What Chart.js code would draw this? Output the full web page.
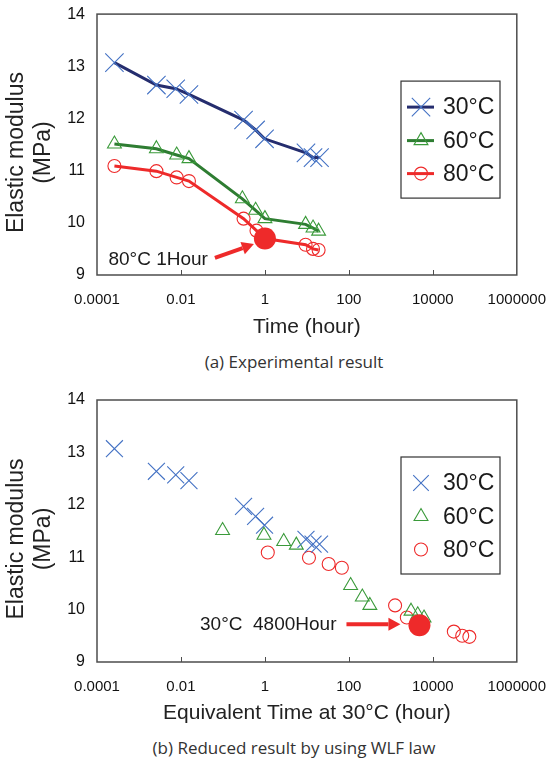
<!DOCTYPE html>
<html>
<head>
<meta charset="utf-8">
<script src="https://cdn.jsdelivr.net/npm/chart.js@4.4.1/dist/chart.umd.min.js"></script>
<style>
  html, body { margin: 0; padding: 0; background: #ffffff; }
  body { width: 547px; height: 760px; position: relative; overflow: hidden; }
  .box { position: absolute; left: 0; width: 547px; height: 350px; }
  .cap { position: absolute; left: 0; width: 588px; text-align: center; font: 17px "Open Sans", "Noto Sans", sans-serif; line-height: 20px; color: #333; }
</style>
</head>
<body>
<div class="box" style="top:0"><canvas id="chartA" width="547" height="350"></canvas></div>
<div class="cap" style="top:352px">(a) Experimental result</div>
<div class="box" style="top:380px"><canvas id="chartB" width="547" height="350"></canvas></div>
<div class="cap" style="top:738px">(b) Reduced result by using WLF law</div>
<script>
// ---------- data ----------
const timeTickValues = [0.0001, 0.01, 1, 100, 10000, 1000000];
const timeTickLabels = ['0.0001', '0.01', '1', '100', '10000', '1000000'];
const modulusTickValues = [9, 10, 11, 12, 13, 14];
const seriesLabels = ['30°C', '60°C', '80°C'];

// (a) experimental result: time (hour) vs elastic modulus (MPa)
const time30 = [0.00026, 0.0026, 0.0075, 0.0155, 0.31, 0.6, 0.98, 9.5, 14, 20];
const modulus30 = [13.07, 12.64, 12.57, 12.46, 11.97, 11.78, 11.61, 11.34, 11.25, 11.25];
const time60 = [0.00026, 0.0026, 0.0079, 0.0155, 0.29, 0.6, 1.0, 9.3, 14, 19];
const modulus60 = [11.51, 11.42, 11.3, 11.23, 10.46, 10.24, 10.08, 9.97, 9.9, 9.84];
const time80 = [0.00026, 0.0026, 0.0079, 0.0155, 0.31, 0.63, 1.0, 9.3, 14, 19];
const modulus80 = [11.09, 10.99, 10.87, 10.8, 10.08, 9.85, 9.7, 9.58, 9.5, 9.48];

// (b) reduced result: equivalent time at 30°C (hour)
const eqTime30 = [0.00026, 0.0026, 0.0075, 0.0155, 0.31, 0.6, 0.98, 9.5, 14, 20];
const eqTime60 = [0.098, 0.95, 2.8, 5.6, 110, 209, 316, 3020, 4365, 6166];
const eqTime80 = [1.17, 11.2, 33, 68, 1260, 2400, 4800, 31600, 50100, 74100];

// highlighted points
const markTimeA = [1];
const markModulusA = [9.7];
const markLabelA = '80°C 1Hour';
const markTimeB = [4800];
const markModulusB = [9.7];
const markLabelB = '30°C  4800Hour';

// ---------- styles ----------
const FONT = '"Liberation Sans", Arial, Helvetica, sans-serif';
const seriesStyle = [
  { line: '#252d6e', mark: '#4472c4', pointStyle: 'crossRot' },
  { line: '#2e7d32', mark: '#3a9a3a', pointStyle: 'triangle' },
  { line: '#ee2a2a', mark: '#ee2a2a', pointStyle: 'circle' }
];
const RED = '#ee2a2a';

function toPoints(xs, ys) { return xs.map((x, i) => ({ x: x, y: ys[i] })); }

function drawMarker(ctx, style, x, y, r) {
  ctx.beginPath();
  if (style === 'crossRot') {
    const d = r * Math.SQRT1_2;
    ctx.moveTo(x - d, y - d); ctx.lineTo(x + d, y + d);
    ctx.moveTo(x + d, y - d); ctx.lineTo(x - d, y + d);
  } else if (style === 'triangle') {
    ctx.moveTo(x, y - r);
    ctx.lineTo(x + r * 0.866, y + r * 0.5);
    ctx.lineTo(x - r * 0.866, y + r * 0.5);
    ctx.closePath();
  } else {
    ctx.arc(x, y, r, 0, Math.PI * 2);
  }
  ctx.stroke();
}

function makeDeco(opt) {
  return {
    id: 'deco',
    afterDraw(chart) {
      const ctx = chart.ctx, a = chart.chartArea, xs = chart.scales.x, ys = chart.scales.y;
      ctx.save();
      // plot frame
      ctx.strokeStyle = '#4d4d4d';
      ctx.lineWidth = 1.5;
      ctx.strokeRect(a.left, a.top, a.right - a.left, a.bottom - a.top);
      // inward tick marks on x axis
      ctx.lineWidth = 1;
      timeTickValues.slice(1, -1).forEach(v => {
        const px = Math.round(xs.getPixelForValue(v)) + 0.5;
        ctx.beginPath(); ctx.moveTo(px, a.bottom); ctx.lineTo(px, a.bottom - 5); ctx.stroke();
      });
      // y axis title (two lines, rotated)
      ctx.fillStyle = '#222';
      ctx.font = '23px ' + FONT;
      ctx.textAlign = 'center';
      ctx.textBaseline = 'middle';
      const cy = (a.top + a.bottom) / 2 + 8;
      [['Elastic modulus', a.left - 80], ['(MPa)', a.left - 53]].forEach(([t, cx]) => {
        ctx.save(); ctx.translate(cx, cy); ctx.rotate(-Math.PI / 2); ctx.fillText(t, 0, 0); ctx.restore();
      });
      // legend box
      const lx = a.left + 304, ly = a.top + opt.legendTop, lw = 99, lh = 117;
      ctx.fillStyle = '#ffffff';
      ctx.fillRect(lx, ly, lw, lh);
      ctx.strokeStyle = '#333';
      ctx.lineWidth = 1.2;
      ctx.strokeRect(lx, ly, lw, lh);
      const rowY = [26, 59.5, 92.5];
      seriesLabels.forEach((label, i) => {
        const st = seriesStyle[i];
        const y = ly + rowY[i];
        if (opt.lines) {
          ctx.strokeStyle = st.line; ctx.lineWidth = 3;
          ctx.beginPath(); ctx.moveTo(lx + 6, y); ctx.lineTo(lx + 33, y); ctx.stroke();
        }
        ctx.strokeStyle = st.mark; ctx.lineWidth = 1.1;
        drawMarker(ctx, st.pointStyle, lx + 20, y, opt.legendRadius[i]);
        ctx.fillStyle = '#1a1a1a';
        ctx.font = '23px ' + FONT;
        ctx.textAlign = 'left'; ctx.textBaseline = 'middle';
        ctx.fillText(label, lx + 42, y + 1);
      });
      // annotation arrow + text
      const px = xs.getPixelForValue(opt.markTime[0]);
      const py = ys.getPixelForValue(opt.markModulus[0]);
      const t0 = { x: px + opt.arrowFrom[0], y: py + opt.arrowFrom[1] };
      const t1 = { x: px + opt.arrowTo[0], y: py + opt.arrowTo[1] };
      const ang = Math.atan2(t1.y - t0.y, t1.x - t0.x);
      const headLen = 12, headW = 6.5;
      const bx = t1.x - headLen * Math.cos(ang), by = t1.y - headLen * Math.sin(ang);
      ctx.strokeStyle = RED; ctx.fillStyle = RED; ctx.lineWidth = 4;
      ctx.beginPath(); ctx.moveTo(t0.x, t0.y); ctx.lineTo(bx, by); ctx.stroke();
      ctx.beginPath();
      ctx.moveTo(t1.x, t1.y);
      ctx.lineTo(bx + headW * Math.sin(ang), by - headW * Math.cos(ang));
      ctx.lineTo(bx - headW * Math.sin(ang), by + headW * Math.cos(ang));
      ctx.closePath(); ctx.fill();
      ctx.fillStyle = '#1a1a1a';
      ctx.font = '19px ' + FONT;
      ctx.textAlign = 'right'; ctx.textBaseline = 'middle';
      ctx.fillText(opt.markLabel, px + opt.textAt[0], py + opt.textAt[1]);
      ctx.restore();
    }
  };
}

function makeChart(id, o) {
  const datasets = [{
    label: 'mark',
    data: toPoints(o.markTime, o.markModulus),
    showLine: false,
    pointRadius: 11,
    pointBackgroundColor: RED,
    pointBorderColor: RED,
    pointBorderWidth: 0
  }];
  o.series.forEach((s, i) => {
    const st = seriesStyle[i];
    datasets.push({
      label: seriesLabels[i],
      data: toPoints(s[0], s[1]),
      showLine: o.lines,
      borderColor: st.line,
      borderWidth: 3,
      tension: 0,
      pointStyle: st.pointStyle,
      pointRadius: o.radius[i],
      pointBorderColor: st.mark,
      pointBackgroundColor: 'rgba(0,0,0,0)',
      pointBorderWidth: 1.1
    });
  });
  const hiddenGrid = (len) => ({
    display: true, drawOnChartArea: false, drawTicks: true,
    tickLength: len, color: 'rgba(0,0,0,0)'
  });
  return new Chart(document.getElementById(id), {
    type: 'scatter',
    data: { datasets: datasets },
    options: {
      responsive: false,
      animation: false,
      devicePixelRatio: 1,
      layout: { padding: { left: 0, top: o.padTop, right: 30, bottom: 0 } },
      plugins: { legend: { display: false }, tooltip: { enabled: false }, title: { display: false } },
      scales: {
        x: {
          type: 'logarithmic',
          min: 0.0001, max: 1000000,
          grid: hiddenGrid(15),
          border: { display: false },
          afterBuildTicks: (sc) => { sc.ticks = timeTickValues.map(v => ({ value: v })); },
          afterFit: (sc) => { sc.height = o.xHeight; },
          ticks: {
            autoSkip: false, maxRotation: 0, padding: 1,
            color: '#111', font: { family: FONT, size: 15 },
            callback: (v, i) => timeTickLabels[i]
          },
          title: {
            display: true, text: o.xTitle, color: '#222',
            font: { family: FONT, size: 21 },
            padding: { top: 0, bottom: o.xTitlePad }
          }
        },
        y: {
          type: 'linear',
          min: 9, max: 14,
          grid: hiddenGrid(11),
          border: { display: false },
          afterBuildTicks: (sc) => { sc.ticks = modulusTickValues.map(v => ({ value: v })); },
          afterFit: (sc) => { sc.width = 97; },
          ticks: { padding: 1, color: '#111', font: { family: FONT, size: 16 } }
        }
      }
    },
    plugins: [makeDeco(o)]
  });
}

makeChart('chartA', {
  series: [[time30, modulus30], [time60, modulus60], [time80, modulus80]],
  lines: true,
  radius: [13, 8, 6.5],
  legendRadius: [13, 8, 6.5],
  legendTop: 67,
  padTop: 14,
  xHeight: 75,
  xTitle: 'Time (hour)',
  xTitlePad: 10,
  markTime: markTimeA, markModulus: markModulusA, markLabel: markLabelA,
  arrowFrom: [-50, 19.5], arrowTo: [-11, 5.5], textAt: [-57, 21.5]
});

makeChart('chartB', {
  series: [[eqTime30, modulus30], [eqTime60, modulus60], [eqTime80, modulus80]],
  lines: false,
  radius: [12, 8, 6.5],
  legendRadius: [11, 8, 6.5],
  legendTop: 57,
  padTop: 20,
  xHeight: 68,
  xTitle: 'Equivalent Time at 30°C (hour)',
  xTitlePad: 4,
  markTime: markTimeB, markModulus: markModulusB, markLabel: markLabelB,
  arrowFrom: [-73, -1], arrowTo: [-19, -1], textAt: [-83, -1]
});
</script>
</body>
</html>
